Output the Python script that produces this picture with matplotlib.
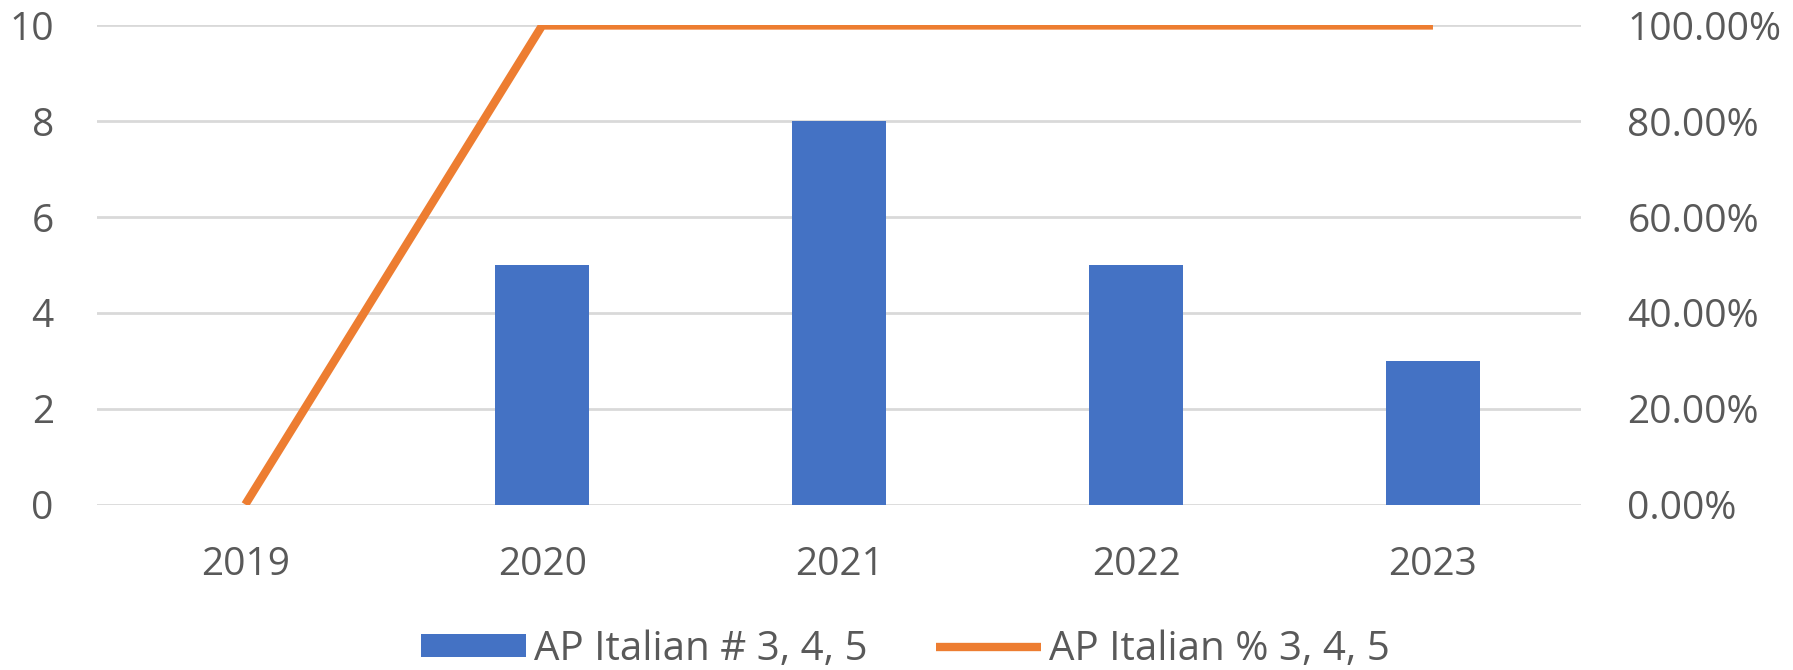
import numpy as np
from matplotlib import pyplot as plt
from matplotlib.ticker import PercentFormatter

years = ['2019', '2020', '2021', '2022', '2023']
counts = [0, 5, 8, 5, 3]
pct = [0.0, 1.0, 1.0, 1.0, 1.0]

txt = '#595959'
plt.rcParams['font.family'] = ['Open Sans', 'DejaVu Sans']

fig = plt.figure(figsize=(17.93, 6.7), dpi=100)
ax = fig.add_axes([0.054, 0.247, 0.828, 0.715])
x = np.arange(len(years))

ax.bar(x, counts, width=0.316, color='#4472C4', label='AP Italian # 3, 4, 5', zorder=2)
ax.set_ylim(0, 10)
ax.set_yticks(range(0, 11, 2))
ax.set_xlim(-0.5, len(years) - 0.5)
ax.set_xticks(x)
ax.set_xticklabels(years)
ax.yaxis.grid(True, color='#D9D9D9', linewidth=2, zorder=0)
ax.set_axisbelow(True)
for s in ax.spines.values():
    s.set_visible(False)
ax.tick_params(axis='both', length=0, colors=txt, labelsize=28)
ax.tick_params(axis='x', pad=30)
ax.tick_params(axis='y', pad=31)

ax2 = ax.twinx()
ax2.plot(x, pct, color='#ED7D31', linewidth=6, label='AP Italian % 3, 4, 5',
         solid_capstyle='butt', zorder=3)
ax2.set_ylim(0, 1)
ax2.set_yticks(np.linspace(0, 1, 6))
ax2.yaxis.set_major_formatter(PercentFormatter(1.0, decimals=2))
for s in ax2.spines.values():
    s.set_visible(False)
ax2.tick_params(axis='y', length=0, labelsize=28, colors=txt, pad=33)

h1, l1 = ax.get_legend_handles_labels()
h2, l2 = ax2.get_legend_handles_labels()
fig.legend(h1 + h2, l1 + l2, loc='center', bbox_to_anchor=(0.505, 0.03), ncol=2,
           frameon=False, fontsize=29, labelcolor=txt,
           handlelength=2.6, handletextpad=0.2, columnspacing=1.7, handleheight=0.5)

fig.savefig('out.png', dpi=100)
